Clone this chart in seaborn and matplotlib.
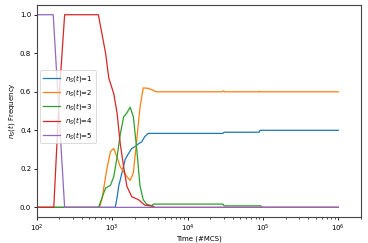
import numpy as np
import pandas as pd
import matplotlib
matplotlib.use("Agg")
import matplotlib.pyplot as plt
import seaborn as sns

# Data (time in MCS, frequency)
t1 = [100, 1100, 1160, 1220, 1350, 1490, 1650, 1820, 2000, 2230, 2460, 2700, 3000, 3700, 29500, 30500, 89000, 91000, 1e6]
y1 = [0, 0, 0.05, 0.11, 0.18, 0.25, 0.28, 0.306, 0.315, 0.33, 0.34, 0.367, 0.384, 0.384, 0.384, 0.39, 0.39, 0.40, 0.40]

t2 = [100, 680, 740, 780, 860, 950, 1050, 1160, 1280, 1420, 1565, 1730, 1910, 2120, 2340, 2580, 3000, 3400, 3800, 29000, 30000, 31000, 89000, 90000, 91000, 1e6]
y2 = [0, 0, 0.05, 0.11, 0.21, 0.29, 0.306, 0.26, 0.21, 0.185, 0.16, 0.14, 0.18, 0.35, 0.52, 0.62, 0.618, 0.61, 0.60, 0.60, 0.605, 0.60, 0.60, 0.603, 0.60, 0.60]

t3 = [100, 660, 740, 818, 950, 1050, 1160, 1280, 1420, 1565, 1730, 1910, 2120, 2340, 2580, 2850, 3400, 3500, 29500, 30500, 94000, 96000, 1e6]
y3 = [0, 0, 0.055, 0.10, 0.115, 0.16, 0.26, 0.38, 0.47, 0.49, 0.52, 0.47, 0.30, 0.11, 0.04, 0.017, 0.008, 0.017, 0.017, 0.008, 0.008, 0, 0]

t4 = [100, 168, 200, 234, 656, 818, 903, 1050, 1160, 1280, 1420, 1565, 1820, 2230, 2700, 3500, 3700, 1e6]
y4 = [0, 0, 0.6, 1.0, 1.0, 0.80, 0.67, 0.59, 0.49, 0.33, 0.21, 0.11, 0.055, 0.04, 0.012, 0.005, 0, 0]

t5 = [100, 165, 200, 234, 1e6]
y5 = [1.0, 1.0, 0.45, 0.0, 0.0]

labels = ["$n_S(t)$=1", "$n_S(t)$=2", "$n_S(t)$=3", "$n_S(t)$=4", "$n_S(t)$=5"]

frames = []
for lab, t, y in zip(labels, [t1, t2, t3, t4, t5], [y1, y2, y3, y4, y5]):
    frames.append(pd.DataFrame({"t": t, "y": y, "series": lab}))
df = pd.concat(frames, ignore_index=True)

plt.rcParams.update({"font.size": 5, "axes.linewidth": 0.8})
fig = plt.figure(figsize=(3.68, 2.43), dpi=100)
ax = fig.add_axes([0.100, 0.107, 0.881, 0.872])

sns.lineplot(data=df, x="t", y="y", hue="series", palette=sns.color_palette("tab10", 5),
             sort=False, estimator=None, units="series", linewidth=0.9, ax=ax, legend=True)

ax.set_xscale("log")
ax.set_xlim(100, 2e6)
ax.set_ylim(-0.05, 1.05)
ax.set_yticks([0.0, 0.2, 0.4, 0.6, 0.8, 1.0])
ax.set_xlabel("Time (#MCS)", fontsize=5, labelpad=1)
ax.set_ylabel("$n_S(t)$ Frequency", fontsize=5, labelpad=2)
ax.tick_params(labelsize=5, length=2.5, width=0.6, pad=1.5)
ax.tick_params(which="minor", length=1.5, width=0.5)
for s in ax.spines.values():
    s.set_color("#444444")

leg = ax.legend(loc="center left", fontsize=5, frameon=True, handlelength=2.4,
                borderpad=0.4, labelspacing=0.45, bbox_to_anchor=(0.0, 0.52))
leg.get_frame().set_linewidth(0.6)

fig.savefig("out.png", dpi=100)
